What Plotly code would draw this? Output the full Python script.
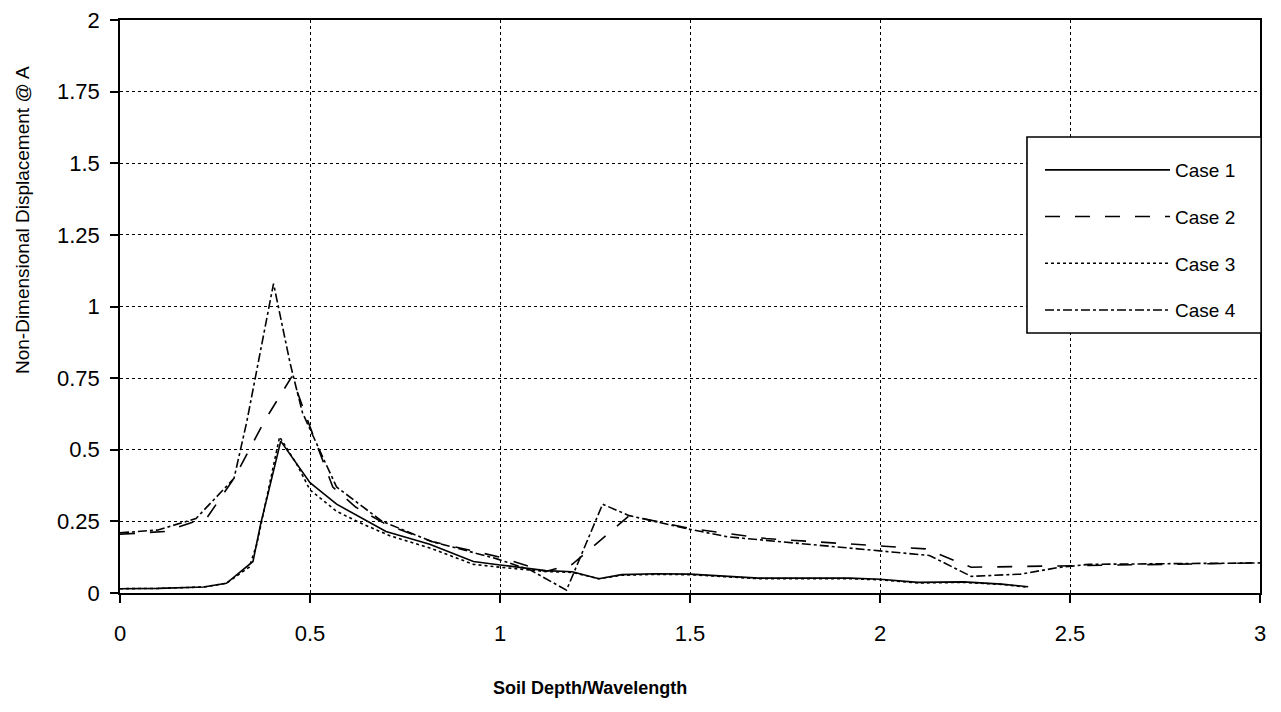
import plotly.graph_objects as go

# ---- data ----
case1_x = [0, 0.1, 0.22, 0.28, 0.35, 0.37, 0.423, 0.5, 0.57, 0.7, 0.815, 0.93, 1.0, 1.12,
           1.19, 1.26, 1.32, 1.41, 1.5, 1.68, 1.92, 2.0, 2.1, 2.22, 2.32, 2.39]
case1_y = [0.015, 0.016, 0.021, 0.034, 0.11, 0.24, 0.53, 0.385, 0.31, 0.215, 0.17, 0.11, 0.098, 0.078,
           0.074, 0.05, 0.064, 0.067, 0.066, 0.052, 0.052, 0.048, 0.037, 0.039, 0.031, 0.022]

case2_x = [0, 0.12, 0.23, 0.30, 0.38, 0.452, 0.5, 0.56, 0.62, 0.70, 0.82, 1.0, 1.12, 1.19,
           1.34, 1.5, 1.7, 2.0, 2.12, 2.24, 2.5, 3.0]
case2_y = [0.205, 0.215, 0.265, 0.40, 0.60, 0.755, 0.58, 0.37, 0.30, 0.24, 0.18, 0.125, 0.075, 0.10,
           0.27, 0.225, 0.19, 0.163, 0.154, 0.09, 0.095, 0.105]

case3_x = [0, 0.1, 0.22, 0.28, 0.34, 0.36, 0.42, 0.465, 0.5, 0.57, 0.64, 0.71, 0.82, 0.93, 1.0,
           1.12, 1.19, 1.26, 1.32, 1.41, 1.5, 1.68, 1.92, 2.0, 2.1, 2.22, 2.32, 2.39]
case3_y = [0.015, 0.016, 0.021, 0.034, 0.09, 0.17, 0.545, 0.45, 0.36, 0.285, 0.24, 0.20, 0.155, 0.10, 0.09,
           0.075, 0.072, 0.05, 0.062, 0.065, 0.064, 0.05, 0.05, 0.046, 0.035, 0.037, 0.03, 0.02]

case4_x = [0, 0.1, 0.2, 0.30, 0.334, 0.404, 0.448, 0.48, 0.535, 0.57, 0.69, 0.82, 0.99, 1.08,
           1.175, 1.27, 1.34, 1.5, 1.6, 2.0, 2.13, 2.24, 2.37, 2.47, 2.55, 3.0]
case4_y = [0.21, 0.22, 0.26, 0.40, 0.60, 1.08, 0.80, 0.63, 0.47, 0.37, 0.25, 0.18, 0.12, 0.08,
           0.01, 0.31, 0.27, 0.222, 0.196, 0.145, 0.131, 0.058, 0.066, 0.089, 0.10, 0.105]

series = [
    ("Case 1", case1_x, case1_y, "solid"),
    ("Case 2", case2_x, case2_y, "longdash"),
    ("Case 3", case3_x, case3_y, "dot"),
    ("Case 4", case4_x, case4_y, "dashdot"),
]

x_ticks = [0, 0.5, 1, 1.5, 2, 2.5, 3]
y_ticks = [0, 0.25, 0.5, 0.75, 1, 1.25, 1.5, 1.75, 2]

x_title = "Soil Depth/Wavelength"
y_title = "Non-Dimensional Displacement @ A"

FONT = "Liberation Sans, Arial, sans-serif"

fig = go.Figure()
for i, (name, xs, ys, dash) in enumerate(series):
    fig.add_trace(go.Scatter(
        x=xs, y=ys, name=name, mode="lines", legendgroup=f"g{i}",
        line=dict(color="black", width=1.6, dash=dash),
    ))

axis_common = dict(
    showline=True, linecolor="black", linewidth=1.6, mirror=True,
    showgrid=True, gridcolor="black", griddash="dot", gridwidth=1,
    zeroline=False, ticks="outside", tickcolor="black", ticklen=8, tickwidth=1.5,
    tickfont=dict(family=FONT, size=22, color="black"),
)

# legend frame (drawn as a box, legend itself is borderless inside it)
fig.add_shape(type="rect", xref="paper", yref="paper",
              x0=0.7956, x1=1.001, y0=0.4538, y1=0.7958,
              line=dict(color="black", width=1.6), fillcolor="white", layer="above")

# axis titles placed where the reference has them
fig.add_annotation(text=f"<b>{x_title}</b>", xref="paper", yref="paper",
                   x=(590 - 120) / 1140, y=(593 - 688) / 573, xanchor="center", yanchor="middle",
                   showarrow=False, font=dict(family=FONT, size=18, color="black"))
fig.add_annotation(text=y_title, xref="paper", yref="paper", textangle=-90,
                   x=(22 - 120) / 1140, y=(593 - 220) / 573, xanchor="center", yanchor="middle",
                   showarrow=False, font=dict(family=FONT, size=19, color="black"))

fig.update_layout(
    width=1281, height=712,
    margin=dict(l=120, r=21, t=20, b=119),
    paper_bgcolor="white", plot_bgcolor="white",
    font=dict(family=FONT, color="black"),
    showlegend=True,
    legend=dict(
        x=(1040 - 120) / 1140, y=(593 - 151) / 573, xanchor="left", yanchor="top",
        bgcolor="rgba(0,0,0,0)", borderwidth=0,
        font=dict(family=FONT, size=19, color="black"),
        itemwidth=125, tracegroupgap=19,
    ),
    xaxis=dict(
        range=[0, 3], tickvals=x_ticks, ticktext=[str(v) for v in x_ticks],
        ticklabelstandoff=12, automargin=False,
        **axis_common,
    ),
    yaxis=dict(
        range=[0, 2], tickvals=y_ticks, ticktext=[str(v) for v in y_ticks],
        ticklabelstandoff=6, automargin=False,
        **axis_common,
    ),
)

fig.write_html("out.html", post_script="document.body.style.margin='0';",
               config={"displayModeBar": False})
